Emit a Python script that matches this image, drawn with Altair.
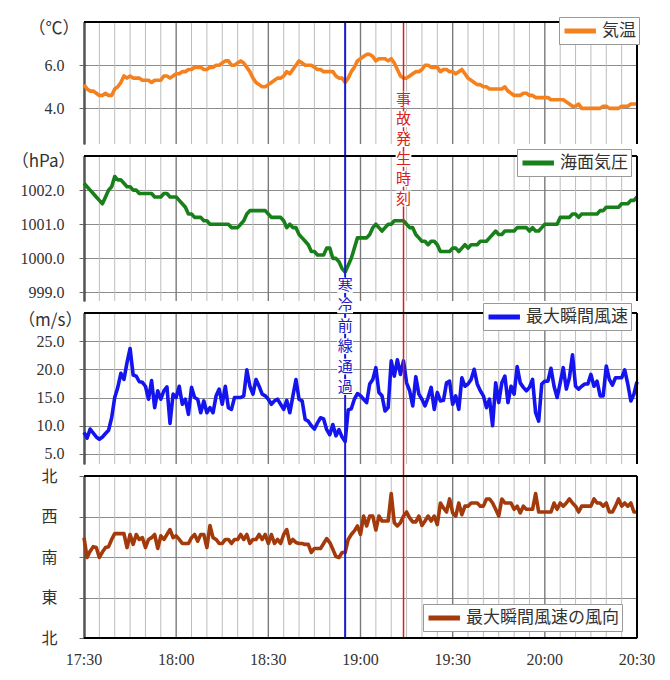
import altair as alt
import pandas as pd

times = [t.strftime("%Y-%m-%dT%H:%M:%S")
         for t in pd.date_range("2024-01-01 17:30", "2024-01-01 20:30", freq="1min")]

temp = [5.1, 4.9, 4.8, 4.8, 4.7, 4.6, 4.6, 4.7, 4.6, 4.6,
        4.9, 5.0, 5.2, 5.5, 5.4, 5.5, 5.4, 5.4, 5.4, 5.3,
        5.3, 5.3, 5.2, 5.3, 5.3, 5.3, 5.5, 5.5, 5.4, 5.5,
        5.6, 5.6, 5.7, 5.7, 5.8, 5.8, 5.9, 5.9, 5.9, 5.8,
        5.8, 5.9, 5.9, 6.0, 6.0, 6.1, 6.2, 6.2, 6.0, 6.0,
        6.1, 6.2, 6.1, 5.9, 5.7, 5.4, 5.2, 5.1, 5.0, 5.0,
        5.1, 5.2, 5.3, 5.4, 5.4, 5.5, 5.7, 5.6, 5.8, 6.0,
        6.2, 6.1, 6.0, 6.0, 6.0, 5.9, 5.8, 5.8, 5.7, 5.7,
        5.7, 5.7, 5.5, 5.4, 5.4, 5.2, 5.4, 5.7, 5.9, 6.2,
        6.3, 6.4, 6.5, 6.5, 6.4, 6.2, 6.3, 6.3, 6.3, 6.2,
        6.3, 6.1, 5.8, 5.5, 5.4, 5.4, 5.5, 5.6, 5.7, 5.7,
        5.8, 6.0, 6.0, 5.9, 5.9, 5.9, 5.7, 5.8, 5.8, 5.7,
        5.7, 5.6, 5.7, 5.8, 5.6, 5.4, 5.3, 5.2, 5.1, 5.1,
        5.0, 5.0, 4.9, 4.9, 4.9, 4.9, 4.9, 5.0, 4.8, 4.7,
        4.6, 4.6, 4.6, 4.7, 4.7, 4.6, 4.6, 4.5, 4.5, 4.5,
        4.5, 4.5, 4.4, 4.4, 4.4, 4.4, 4.4, 4.3, 4.2, 4.1,
        4.1, 4.2, 4.0, 4.0, 4.0, 4.0, 4.0, 4.0, 4.0, 4.1,
        4.1, 4.0, 4.0, 4.0, 4.0, 4.1, 4.1, 4.1, 4.2, 4.2, 4.2]

pres = [1002.2, 1002.1, 1002.0, 1001.9, 1001.8, 1001.7, 1001.6, 1001.8, 1002.0, 1002.1,
        1002.4, 1002.3, 1002.3, 1002.2, 1002.1, 1002.1, 1002.0, 1002.0, 1001.9, 1001.9,
        1001.9, 1001.9, 1001.9, 1001.8, 1001.8, 1001.8, 1001.9, 1001.9, 1001.8, 1001.8,
        1001.8, 1001.7, 1001.6, 1001.5, 1001.3, 1001.3, 1001.2, 1001.2, 1001.2, 1001.1,
        1001.1, 1001.0, 1001.0, 1001.0, 1001.0, 1001.0, 1001.0, 1001.0, 1000.9, 1000.9,
        1000.9, 1001.0, 1001.1, 1001.3, 1001.4, 1001.4, 1001.4, 1001.4, 1001.4, 1001.4,
        1001.3, 1001.2, 1001.2, 1001.2, 1001.2, 1001.1, 1000.9, 1001.0, 1000.9, 1000.9,
        1000.7, 1000.6, 1000.5, 1000.4, 1000.2, 1000.2, 1000.1, 1000.1, 1000.1, 1000.3,
        1000.3, 1000.0, 1000.0, 999.9, 999.7, 999.6, 999.8, 1000.0, 1000.3, 1000.6,
        1000.6, 1000.6, 1000.6, 1000.7, 1000.9, 1001.0, 1000.9, 1000.8, 1000.9, 1001.0,
        1001.0, 1001.1, 1001.1, 1001.1, 1001.1, 1001.0, 1000.9, 1000.9, 1000.7, 1000.6,
        1000.5, 1000.5, 1000.4, 1000.5, 1000.5, 1000.4, 1000.2, 1000.2, 1000.2, 1000.2,
        1000.3, 1000.3, 1000.2, 1000.3, 1000.4, 1000.3, 1000.4, 1000.4, 1000.4, 1000.5,
        1000.5, 1000.5, 1000.6, 1000.7, 1000.8, 1000.7, 1000.7, 1000.8, 1000.8, 1000.8,
        1000.8, 1000.9, 1000.9, 1000.9, 1000.9, 1000.8, 1000.9, 1000.8, 1000.8, 1000.9,
        1001.0, 1001.0, 1001.0, 1001.0, 1001.0, 1001.2, 1001.2, 1001.2, 1001.2, 1001.3,
        1001.3, 1001.2, 1001.3, 1001.3, 1001.3, 1001.3, 1001.3, 1001.3, 1001.4, 1001.4,
        1001.5, 1001.5, 1001.5, 1001.5, 1001.5, 1001.6, 1001.6, 1001.6, 1001.7, 1001.7, 1001.8]

gust = [8.8, 7.8, 9.4, 8.7, 8.0, 7.6, 8.0, 8.6, 9.2, 11.4,
        15.0, 16.8, 19.3, 18.2, 21.2, 23.7, 19.0, 18.8, 17.8, 17.7,
        17.0, 14.7, 18.0, 13.2, 16.2, 14.7, 16.2, 16.9, 10.4, 15.6,
        15.0, 17.0, 13.8, 14.7, 12.0, 16.8, 15.0, 14.7, 12.3, 14.4,
        12.3, 13.2, 12.3, 15.3, 16.5, 13.8, 17.0, 13.2, 12.9, 15.0,
        15.0, 15.0, 15.3, 19.9, 17.0, 15.6, 18.2, 17.0, 15.6, 15.3,
        14.7, 13.8, 14.4, 14.7, 13.8, 12.9, 14.5, 12.3, 15.3, 18.2,
        14.7, 14.4, 11.1, 10.8, 10.0, 9.4, 10.5, 11.4, 11.2, 9.3,
        8.4, 10.2, 8.2, 9.3, 8.0, 7.2, 12.8, 13.0, 14.7, 15.7,
        15.3, 14.7, 14.1, 17.4, 18.2, 20.3, 15.9, 15.3, 12.6, 13.2,
        21.5, 18.8, 21.7, 19.1, 21.5, 17.6, 16.2, 13.5, 18.7, 15.6,
        14.7, 13.5, 15.0, 16.8, 12.9, 15.9, 14.4, 14.5, 17.6, 17.9,
        13.8, 15.3, 12.9, 18.5, 17.0, 17.4, 18.2, 20.0, 17.4, 16.2,
        15.3, 13.2, 14.7, 10.0, 17.6, 14.1, 17.6, 18.8, 14.1, 17.0,
        15.6, 20.5, 17.6, 16.8, 16.2, 16.8, 18.2, 12.3, 10.8, 17.4,
        17.9, 17.9, 20.2, 17.0, 15.0, 17.6, 20.3, 16.5, 18.5, 22.6,
        17.0, 16.5, 17.0, 17.4, 17.4, 19.1, 17.0, 17.9, 15.3, 15.3,
        20.6, 18.2, 17.2, 18.5, 18.5, 18.5, 19.9, 17.4, 14.4, 15.6, 17.8]

wdir = [223, 179, 193, 203, 201, 179, 191, 201, 203, 219,
        232, 232, 232, 232, 201, 230, 208, 230, 219, 223,
        201, 219, 223, 230, 199, 227, 219, 230, 241, 223,
        227, 219, 210, 210, 210, 223, 230, 215, 230, 230,
        201, 250, 223, 219, 210, 210, 219, 219, 210, 219,
        219, 230, 219, 230, 210, 219, 219, 230, 219, 230,
        210, 230, 210, 219, 210, 230, 241, 210, 219, 212,
        210, 210, 208, 208, 190, 199, 199, 199, 210, 221,
        212, 197, 181, 179, 190, 190, 219, 230, 238, 249,
        230, 271, 249, 271, 271, 240, 271, 260, 260, 260,
        321, 256, 249, 256, 271, 280, 267, 258, 258, 271,
        250, 260, 271, 260, 271, 252, 300, 289, 280, 309,
        278, 271, 300, 274, 293, 293, 300, 300, 300, 293,
        293, 309, 309, 300, 286, 271, 309, 300, 300, 300,
        286, 293, 278, 293, 286, 286, 286, 321, 280, 280,
        280, 280, 280, 300, 286, 300, 293, 300, 309, 300,
        293, 280, 293, 293, 293, 293, 309, 300, 300, 293,
        300, 280, 280, 293, 309, 293, 300, 293, 300, 280, 280]

series_names = ["気温", "海面気圧", "最大瞬間風速", "最大瞬間風速の風向"]
unit_titles = ["（℃）", "（hPa）", "（m/s）", ""]
dir_labels = {0: "北", 90: "東", 180: "南", 270: "西", 360: "北"}
front_text = list("寒冷前線通過")
accident_text = list("事故発生時刻")
five_min = pd.date_range("2024-01-01 17:30", "2024-01-01 20:30", freq="5min")
minor_times = [t.strftime("%Y-%m-%dT%H:%M:%S") for t in five_min if t.minute % 30 != 0]
half_hours = [t.strftime("%Y-%m-%dT%H:%M:%S") for t in five_min if t.minute % 30 == 0]
half_hour_labels = [t.strftime("%H:%M") for t in five_min if t.minute % 30 == 0]

df = pd.DataFrame({"time": times, "temp": temp, "pres": pres, "gust": gust, "wdir": wdir})
minor_df = pd.DataFrame({"t": minor_times})
major_df = pd.DataFrame({"t": half_hours, "label": half_hour_labels})
one = pd.DataFrame({"k": [0]})

SERIF = "'Liberation Serif', 'DejaVu Serif', serif"
SANS = "'Noto Sans CJK JP', sans-serif"
W = 553
GAP = 12


def dt(h, m):
    return alt.DateTime(year=2024, month=1, date=1, hours=h, minutes=m)


T0, T1 = dt(17, 30), dt(20, 30)
FRONT, ACC = dt(18, 55), dt(19, 14)
BLUE_EV, RED_EV = "#1a1ad2", "#d82020"
XSCALE = alt.Scale(domain=[T0, T1], nice=False)


def y_axis(values, title, tx, ty, label_expr=None, label_font=SERIF, label_pad=15):
    kw = dict(values=values, grid=True, gridColor="#8c8c8c", gridWidth=1,
              domain=True, domainColor="black", domainWidth=2,
              ticks=True, tickSize=5, tickColor="#666666",
              labelFont=label_font, labelFontSize=16, labelColor="#333333",
              labelPadding=label_pad, labelOverlap=False, labelFlush=False)
    if label_expr:
        kw["labelExpr"] = label_expr
    else:
        kw["format"] = ".1f"
    if title:
        kw.update(title=title, titleAngle=0, titleAlign="right", titleBaseline="middle",
                  titleX=tx, titleY=ty, titleFont=SANS, titleFontSize=17,
                  titleFontWeight="normal", titleColor="#333333")
    else:
        kw["title"] = None
    return alt.Axis(**kw)


def xd(t):
    return alt.XDatum(t, type="temporal", scale=XSCALE, axis=None)


def annotation(chars, when, color, start, step):
    layers = []
    for i, ch in enumerate(chars):
        py = start + i * step
        layers.append(alt.Chart(one).mark_point(shape="square", filled=True, color="white",
                                                opacity=1, size=250)
                      .encode(x=xd(when), y=alt.value(py)))
        layers.append(alt.Chart(one).mark_text(text=ch, font=SANS, fontSize=15, color=color,
                                               align="center", baseline="middle")
                      .encode(x=xd(when), y=alt.value(py)))
    return layers


def panel(field, name, color, domain, height, yaxis, lx, ly, last=False, extra=()):
    line = alt.Chart(df).transform_calculate(series=f"'{name}'").mark_line(
        strokeWidth=3.6, strokeJoin="round").encode(
        x=alt.X("time:T", scale=XSCALE, axis=None),
        y=alt.Y(f"{field}:Q", scale=alt.Scale(domain=domain, nice=False, zero=False), axis=yaxis),
        color=alt.Color("series:N",
                        scale=alt.Scale(domain=[name], range=[color]),
                        legend=alt.Legend(orient="none", legendX=lx, legendY=ly, title=None,
                                          symbolType="M-1,0H2.7", symbolStrokeWidth=5,
                                          symbolSize=289, labelFont=SANS, labelFontSize=17,
                                          labelColor="#333333", strokeColor="#999999",
                                          fillColor="white", padding=3, labelOffset=18)),
    )
    minor = alt.Chart(minor_df).mark_rule(color="#bdbdbd", strokeWidth=1).encode(
        x=alt.X("t:T", scale=XSCALE, axis=None))
    major = alt.Chart(major_df).mark_rule(color="#7a7a7a", strokeWidth=1.4).encode(
        x=alt.X("t:T", scale=XSCALE, axis=None))
    bottom = height if last else height + GAP
    ev = [alt.Chart(one).mark_rule(color=c, strokeWidth=w).encode(
              x=xd(t), y=alt.value(0), y2=alt.value(bottom))
          for t, c, w in [(FRONT, BLUE_EV, 2), (ACC, RED_EV, 1.5)]]
    top = alt.Chart(one).mark_rule(color="black", strokeWidth=2).encode(
        x=alt.value(0), x2=alt.value(W), y=alt.value(0))
    right = alt.Chart(one).mark_rule(color="black", strokeWidth=2).encode(
        x=alt.value(W), y=alt.value(0), y2=alt.value(height))
    layers = [line, minor, major, *ev, top, right]
    if last:
        layers.append(alt.Chart(one).mark_rule(color="black", strokeWidth=2).encode(
            x=alt.value(0), x2=alt.value(W), y=alt.value(height)))
        layers.append(alt.Chart(major_df).mark_text(font=SERIF, fontSize=16, color="#333333",
                                                    align="center", baseline="middle")
                      .encode(x=alt.X("t:T", scale=XSCALE, axis=None),
                              y=alt.value(height + 22), text="label:N"))
    # draw grid first, data line above it
    ordered = [minor, major, line] + layers[3:] + list(extra)
    return alt.layer(*ordered).properties(width=W, height=height)


p1 = panel("temp", series_names[0], "#f5801e", [2.35, 8.0], 122,
           y_axis([4, 6], unit_titles[0], -5, 6), 475, -5)
p2 = panel("pres", series_names[1], "#17801a", [998.75, 1003.0], 145,
           y_axis([999, 1000, 1001, 1002], unit_titles[1], -9, 5), 433, -7,
           extra=annotation(accident_text, ACC, RED_EV, -56.5, 19.8))
p3 = panel("gust", series_names[2], "#1414ee", [3.2, 30.0], 151,
           y_axis([5, 10, 15, 20, 25], unit_titles[2], -2, 7), 399, -10,
           extra=annotation(front_text, FRONT, "#2020c8", -28, 20.4))
dir_expr = " : ".join(f"datum.value == {k} ? '{v}'" for k, v in dir_labels.items()) + " : ''"
p4 = panel("wdir", series_names[3], "#a33a0b", [0, 360], 162,
           y_axis([0, 90, 180, 270, 360], None, 0, 0, label_expr=dir_expr,
                  label_font=SANS, label_pad=22), 339, 128, last=True)

chart = (alt.vconcat(p1, p2, p3, p4, spacing=GAP, bounds="flush")
         .resolve_scale(color="independent", y="independent")
         .resolve_legend(color="independent")
         .properties(padding={"left": 3, "top": 8, "right": 5, "bottom": 5})
         .configure_view(stroke=None))

chart.save("out.html", embed_options={"renderer": "svg", "actions": False})

# surface any console errors on the page (diagnostic only)
with open("out.html", encoding="utf-8") as f:
    html = f.read()
dbg = """<script>
(function(){
 function show(kind,args){var d=document.createElement('pre');d.style.color='red';d.style.fontSize='10px';
  d.textContent=kind+': '+Array.prototype.map.call(args,function(a){return (a&&a.stack)?a.stack:String(a);}).join(' ');
  (document.body||document.documentElement).appendChild(d);}
 var e=console.error;
 console.error=function(){show('ERR',arguments);e.apply(console,arguments);};
 window.addEventListener('error',function(ev){show('ONERR',[ev.message]);});
 window.addEventListener('unhandledrejection',function(ev){show('REJ',[ev.reason]);});
})();
</script>"""
html = html.replace("<head>", "<head>" + dbg, 1)
with open("out.html", "w", encoding="utf-8") as f:
    f.write(html)
